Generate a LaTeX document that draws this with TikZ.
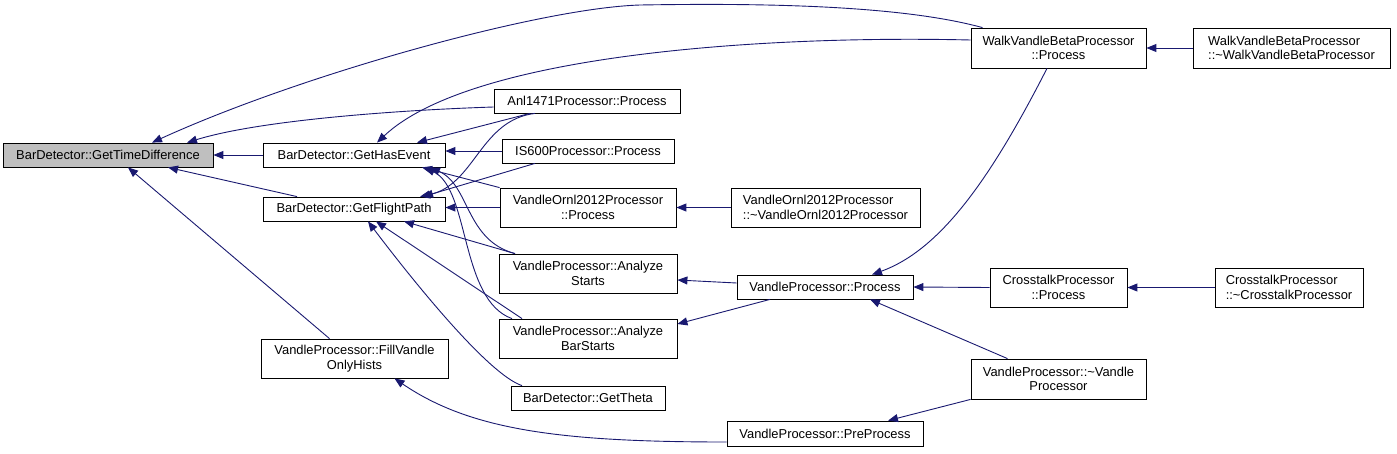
\documentclass[tikz,border=0pt]{standalone}
\usepackage{fontspec}
\setmainfont{Liberation Sans}
\usetikzlibrary{arrows.meta}
\definecolor{edgecol}{HTML}{191970}
\definecolor{graybox}{HTML}{BFBFBF}
\begin{document}
\begin{tikzpicture}[x=1pt,y=-1pt,
  box/.style={draw=black, line width=0.8pt, fill=white, inner sep=0pt,
    font=\fontsize{12.9}{14.5}\selectfont, align=center},
  lbox/.style={box, align=left},
  cedge/.style={draw=edgecol, line width=0.9pt, {Triangle[length=10pt,width=8pt]}-}
]
\useasboundingbox (0,0) rectangle (1397,453);

% nodes
\node[box, fill=graybox, minimum width=210pt, minimum height=24pt] (gtd) at (108,155) {BarDetector::GetTimeDifference};
\node[box, minimum width=182pt, minimum height=24pt] (ghe) at (354,155) {BarDetector::GetHasEvent};
\node[box, minimum width=182pt, minimum height=24pt] (gfp) at (354,209) {BarDetector::GetFlightPath};
\node[box, minimum width=187pt, minimum height=39pt] (fvoh) at (354.5,358.5) {VandleProcessor::FillVandle\\OnlyHists};
\node[box, minimum width=186pt, minimum height=24pt] (anl) at (587,101) {Anl1471Processor::Process};
\node[box, minimum width=172pt, minimum height=24pt] (is600) at (588,151) {IS600Processor::Process};
\node[box, minimum width=176pt, minimum height=39pt] (vop) at (588,207.5) {VandleOrnl2012Processor\\::Process};
\node[box, minimum width=178pt, minimum height=39pt] (as) at (588,273.5) {VandleProcessor::Analyze\\Starts};
\node[box, minimum width=178pt, minimum height=39pt] (abs) at (588,338.5) {VandleProcessor::Analyze\\BarStarts};
\node[box, minimum width=154pt, minimum height=24pt] (theta) at (588,398) {BarDetector::GetTheta};
\node[box, minimum width=175pt, minimum height=40pt] (wvp) at (1058.5,48) {WalkVandleBetaProcessor\\::Process};
\node[lbox, minimum width=197pt, minimum height=40pt] (wvd) at (1291.5,48) {WalkVandleBetaProcessor\\::\textasciitilde WalkVandleBetaProcessor};
\node[lbox, minimum width=189pt, minimum height=39pt] (vod) at (825.5,207.5) {VandleOrnl2012Processor\\::\textasciitilde VandleOrnl2012Processor};
\node[box, minimum width=176pt, minimum height=24pt] (vpp) at (825,287) {VandleProcessor::Process};
\node[box, minimum width=137pt, minimum height=39pt] (ctp) at (1058.5,287.5) {CrosstalkProcessor\\::Process};
\node[lbox, minimum width=148pt, minimum height=39pt] (ctd) at (1289,287.5) {CrosstalkProcessor\\::\textasciitilde CrosstalkProcessor};
\node[box, minimum width=175pt, minimum height=40pt] (vpd) at (1058.5,379) {VandleProcessor::\textasciitilde Vandle\\Processor};
\node[box, minimum width=196pt, minimum height=25pt] (vppre) at (825,433.5) {VandleProcessor::PreProcess};

% edges (arrow at callee)
\draw[cedge] (gtd.east) -- (ghe.west);
\draw[cedge] ([xshift=60pt]gtd.south) -- ([xshift=-57pt]gfp.north);
\draw[cedge] ([xshift=20pt]gtd.south) -- ([xshift=-25pt]fvoh.north);
\draw[cedge] ([xshift=44pt]gtd.north) .. controls (300,75) and (540,8) .. (640,5)
   .. controls (760,3) and (900,5) .. ([xshift=-76pt]wvp.north);
\draw[cedge] ([xshift=79pt]gtd.north) .. controls (260,120) and (400,110) .. ([yshift=-6pt]anl.west);

\draw[cedge] ([xshift=23pt]ghe.north) .. controls (470,55) and (760,35) .. ([yshift=8pt]wvp.west);
\draw[cedge] ([xshift=63pt]ghe.north) -- ([xshift=-57pt]anl.south);
\draw[cedge] (is600.west -| ghe.east) -- (is600.west);
\draw[cedge] ([xshift=68pt]ghe.south) -- (vop.north west);
\draw[cedge] ([xshift=76pt]ghe.south) .. controls (470,185) and (465,240) .. ([xshift=-73pt]as.north);
\draw[cedge] ([xshift=71pt]ghe.south) .. controls (470,190) and (460,300) .. ([xshift=-76pt]abs.north);

\draw[cedge] ([xshift=66pt]gfp.north) .. controls (475,185) and (480,120) .. ([xshift=-52pt]anl.south);
\draw[cedge] ([xshift=69pt]gfp.north) -- ([xshift=-53pt]is600.south);
\draw[cedge] (vop.west -| gfp.east) -- (vop.west);
\draw[cedge] ([xshift=50pt]gfp.south) -- ([xshift=-73pt]as.north);
\draw[cedge] ([xshift=22pt]gfp.south) -- ([xshift=-66pt]abs.north);
\draw[cedge] ([xshift=14pt]gfp.south) .. controls (420,290) and (490,375) .. ([xshift=-66pt]theta.north);

\draw[cedge] (wvp.east) -- (wvd.west);
\draw[cedge] (vop.east) -- (vod.west);
\draw[cedge] ([yshift=-6.5pt]as.east) -- ([yshift=4pt]vpp.west);
\draw[cedge] ([yshift=14.5pt]abs.east) -- ([xshift=-55pt]vpp.south);
\draw[cedge] ([xshift=47pt]vpp.north) .. controls (940,250) and (990,180) .. ([xshift=-11.5pt]wvp.south);
\draw[cedge] (vpp.east) -- (ctp.west);
\draw[cedge] (ctp.east) -- (ctd.west);
\draw[cedge] ([xshift=45pt]vpp.south) -- ([xshift=-51pt]vpd.north);
\draw[cedge] ([xshift=63pt]vppre.north) -- (vpd.south west);
\draw[cedge] ([xshift=40pt]fvoh.south) .. controls (470,430) and (560,442) .. ([yshift=-8.5pt]vppre.west);
\end{tikzpicture}
\end{document}
